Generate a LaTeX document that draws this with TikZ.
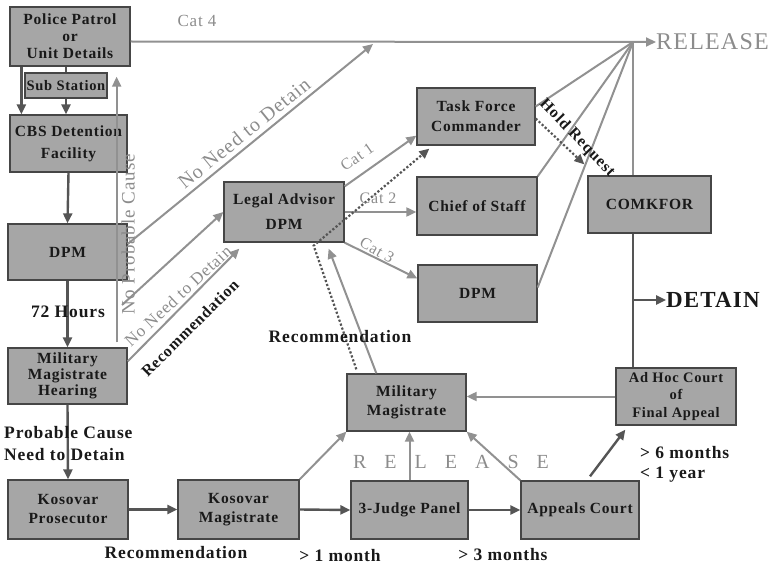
\documentclass[tikz,border=0pt]{standalone}
\usepackage{fontspec}
\setmainfont{Liberation Serif}[LetterSpace=5]
\usetikzlibrary{arrows.meta,calc}
\newcommand{\myfs}[2]{\fontsize{#1}{#2}\selectfont}
\definecolor{boxc}{RGB}{166,166,166}
\definecolor{bordc}{RGB}{70,70,70}
\definecolor{darkc}{RGB}{85,85,85}
\definecolor{grayc}{RGB}{145,145,145}
\definecolor{gtext}{RGB}{140,140,140}
\definecolor{btext}{RGB}{25,25,25}
\begin{document}
\begin{tikzpicture}[x=1pt,y=-1pt,
  box/.style={draw=bordc, fill=boxc, line width=1.3pt, inner sep=0pt, align=center, text=btext},
  tip/.style={-{Triangle[length=10pt,width=9pt]}},
  dk/.style={draw=darkc, line width=2.4pt, tip},
  gr/.style={draw=grayc, line width=2pt, tip},
  gl/.style={draw=grayc, line width=2pt},
  dl/.style={draw=darkc, line width=2.4pt},
  dotarr/.style={draw=darkc, line width=2.2pt, dotted, tip},
  gtxt/.style={inner sep=0pt, text=gtext},
  btxt/.style={inner sep=0pt, text=btext, font=\bfseries\myfs{17.5}{22}}
]
\useasboundingbox (0,0) rectangle (778,567);

% boxes
\node[box, minimum width=120pt, minimum height=59pt, font=\bfseries\myfs{15.5}{17}] (pp) at (70,36.5) {Police Patrol\\or\\Unit Details};
\node[box, minimum width=82pt, minimum height=25pt, font=\bfseries\myfs{14.5}{17}] (ss) at (66,85.5) {Sub Station};
\node[box, minimum width=117pt, minimum height=57pt, font=\bfseries\myfs{15.5}{22}] (cbs) at (68.5,143.5) {CBS Detention\\Facility};
\node[box, minimum width=119pt, minimum height=56pt, font=\bfseries\myfs{15.5}{18}] (dpmL) at (67.5,252) {DPM};
\node[box, minimum width=119pt, minimum height=56pt, font=\bfseries\myfs{15.5}{16}] (mmh) at (67.5,376) {Military\\Magistrate\\Hearing};
\node[box, minimum width=120pt, minimum height=59pt, font=\bfseries\myfs{15.5}{19}] (kp) at (68,509.5) {Kosovar\\Prosecutor};
\node[box, minimum width=121pt, minimum height=59pt, font=\bfseries\myfs{15.5}{19}] (km) at (238.5,509.5) {Kosovar\\Magistrate};
\node[box, minimum width=117pt, minimum height=58pt, font=\bfseries\myfs{15.5}{18}] (tjp) at (409.5,510) {3-Judge Panel};
\node[box, minimum width=118pt, minimum height=58pt, font=\bfseries\myfs{15.5}{18}] (ac) at (580,510) {Appeals Court};
\node[box, minimum width=119pt, minimum height=57pt, font=\bfseries\myfs{15.5}{19}] (mm) at (406.5,402.5) {Military\\Magistrate};
\node[box, minimum width=120pt, minimum height=57pt, font=\bfseries\myfs{14.5}{17.5}] (adhoc) at (676,396.5) {Ad Hoc Court\\of\\Final Appeal};
\node[box, minimum width=120pt, minimum height=60pt, font=\bfseries\myfs{15.5}{25}] (la) at (284,212) {Legal Advisor\\DPM};
\node[box, minimum width=118pt, minimum height=57pt, font=\bfseries\myfs{15.5}{20}] (tfc) at (476,116.5) {Task Force\\Commander};
\node[box, minimum width=120pt, minimum height=58pt, font=\bfseries\myfs{15.5}{18}] (cos) at (477,206) {Chief of Staff};
\node[box, minimum width=119pt, minimum height=57pt, font=\bfseries\myfs{15.5}{18}] (dpmR) at (477.5,293.5) {DPM};
\node[box, minimum width=123pt, minimum height=57pt, font=\bfseries\myfs{15.5}{18}] (comk) at (649.5,204.5) {COMKFOR};

% outcome texts
\node[gtxt, anchor=west, font=\myfs{24}{24}] (rel) at (656,42) {RELEASE};
\node[inner sep=0pt, text=btext, anchor=west, font=\bfseries\myfs{23}{23}] (det) at (666,300) {DETAIN};
\coordinate (hub) at (633,42);
\coordinate (nnd) at (373,44);
\coordinate (nn2) at (122,305);

% dark main flow
\draw[dk] ([xshift=12pt]pp.south west) -- ([xshift=12pt]cbs.north west);
\draw[dl] (ss.north |- pp.south) -- (ss.north);
\draw[dk] (ss.south) -- (ss.south |- cbs.north);
\draw[dk] (cbs.south) -- (dpmL.north);
\draw[dk] (dpmL.south) -- (mmh.north);
\draw[dk] (mmh.south) -- (kp.north);
\draw[dk] (kp.east) -- (km.west);
\draw[dk] (km.east) -- (tjp.west);
\draw[dk] (tjp.east) -- (ac.west);
\draw[dk] ([xshift=10pt,yshift=4pt]ac.north) -- ([xshift=10pt,yshift=-4pt]adhoc.south west);
\draw[dl] (hub |- comk.south) -- (hub |- adhoc.north);
\draw[dk] (hub |- det.west) -- (det.west);

% gray flow
\draw[gr] ([yshift=-5pt]pp.east) -- (rel.west);
\draw[gl] ([yshift=10pt]tfc.east) -- (hub);
\draw[gl] (cos.north east) -- (hub);
\draw[gl] ([yshift=6pt]dpmR.east) -- (hub);
\draw[gl] (hub) -- (hub |- comk.north);
\draw[gr] ([yshift=8pt]dpmL.east) -- (nnd);
\draw[gr] (nn2) -- (la.west);
\draw[gr] ([yshift=-14pt]mmh.north east) -- ([xshift=16pt,yshift=-6pt]la.south west);
\draw[gr] ([xshift=-11pt,yshift=5pt]mmh.north east) -- ([xshift=-14pt,yshift=-10pt]pp.south east);
\draw[gr] ([yshift=-5pt]la.north east) -- ([yshift=10pt]tfc.south west);
\draw[gr] (la.east) -- (la.east -| cos.west);
\draw[gr] (la.south east) -- ([yshift=15pt]dpmR.west);
\draw[gr] ([xshift=30pt]mm.north west) -- ([xshift=-16pt,yshift=-6pt]la.south east);
\draw[gr] (km.north east) -- (mm.south west);
\draw[gr] (tjp.north) -- (tjp.north |- mm.south);
\draw[gr] (ac.north west) -- (mm.south east);
\draw[gr] (adhoc.west) -- (adhoc.west -| mm.east);

% dotted
\draw[dotarr] ([xshift=10pt,yshift=4pt]mm.north west) -- ([xshift=-31pt,yshift=-3pt]la.south east) -- ([xshift=13pt,yshift=-3pt]tfc.south west);
\draw[dotarr] ([yshift=-2pt]tfc.east) -- ([xshift=-3pt,yshift=11pt]comk.north west);

% labels
\node[gtxt, font=\myfs{17}{17}] (cat4) at (197,21) {Cat 4};
\node[gtxt, rotate=39, font=\myfs{20}{20}] (nndt1) at (244,133) {No Need to Detain};
\node[gtxt, rotate=43, font=\myfs{17}{17}] (nndt2) at (178,296) {No Need to Detain};
\node[inner sep=0pt, text=btext, rotate=45, font=\bfseries\myfs{16}{16}] (rec1) at (190,328) {Recommendation};
\node[gtxt, rotate=90, font=\myfs{19}{19}] (npc) at (128,234) {No Probable Cause};
\node[gtxt, rotate=35, font=\myfs{16}{16}] (cat1) at (357,157) {Cat 1};
\node[gtxt, font=\myfs{16}{16}] (cat2) at (378,198) {Cat 2};
\node[gtxt, rotate=-30, font=\myfs{16}{16}] (cat3) at (377,250) {Cat 3};
\node[inner sep=0pt, text=btext, rotate=-46, font=\bfseries\myfs{16}{16}] (hold) at (577,138) {Hold Request};
\node[btxt] (h72) at (68,312) {72 Hours};
\node[btxt, anchor=west, align=left] (pc) at (4,444) {Probable Cause\\Need to Detain};
\node[btxt] (rec2) at (176,553) {Recommendation};
\node[btxt] (m1) at (340,556) {> 1 month};
\node[btxt] (m3) at (503,555) {> 3 months};
\node[btxt] (rec3) at (340,337) {Recommendation};
\node[btxt, anchor=west, align=left, font=\bfseries\myfs{17.5}{20}] (m6) at (640,464) {> 6 months\\< 1 year};
\node[gtxt, font=\myfs{20}{20}] (rel2) at (451,462) {R\hspace{18pt}E\hspace{18pt}L\hspace{18pt}E\hspace{18pt}A\hspace{18pt}S\hspace{18pt}E};
\end{tikzpicture}
\end{document}
